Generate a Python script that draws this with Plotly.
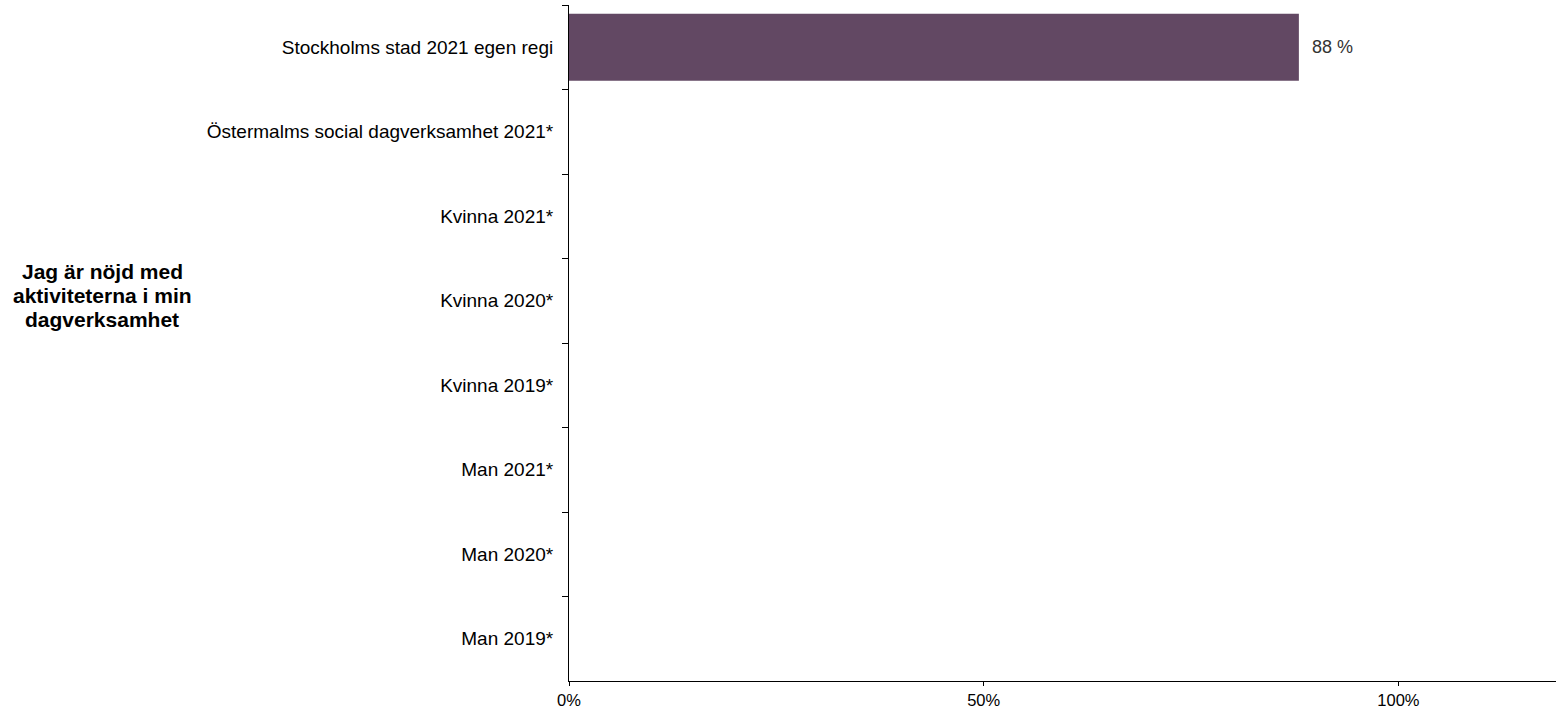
import plotly.graph_objects as go

categories = [
    "Stockholms stad 2021 egen regi",
    "Östermalms social dagverksamhet 2021*",
    "Kvinna 2021*",
    "Kvinna 2020*",
    "Kvinna 2019*",
    "Man 2021*",
    "Man 2020*",
    "Man 2019*",
]
values = [0.88, None, None, None, None, None, None, None]
question_lines = ["Jag är nöjd med", "aktiviteterna i min", "dagverksamhet"]
x_tickvals = [0, 0.5, 1.0]
x_ticktext = ["0%", "50%", "100%"]

W, H = 1556, 712
L, R, T, B = 569, 0, 5, 31

fig = go.Figure()
fig.add_trace(go.Bar(
    y=categories, x=values, orientation="h",
    marker=dict(color="#624863", line=dict(width=0)),
    width=0.79,
    hoverinfo="skip",
))

for c, v in zip(categories, values):
    if v is not None:
        fig.add_annotation(
            x=v, y=c, xref="x", yref="y",
            text=f"{round(v*100)} %", showarrow=False,
            xanchor="left", xshift=11,
            font=dict(family="Arial, Liberation Sans", size=18, color="#333333"),
        )

# y-axis question title, placed in pixel terms converted to paper coords
title_x_px = 102
title_y_px = [271, 295, 319]
for line, ypx in zip(question_lines, title_y_px):
    fig.add_annotation(
        x=(title_x_px - L) / (W - L - R), y=(H - B - ypx) / (H - B - T),
        xref="paper", yref="paper",
        text=f"<b>{line}</b>", showarrow=False,
        xanchor="center", yanchor="middle",
        font=dict(family="Arial, Liberation Sans", size=21, color="#000000"),
    )

fig.update_layout(
    width=W, height=H,
    margin=dict(l=L, r=R, t=T, b=B),
    plot_bgcolor="white", paper_bgcolor="white",
    showlegend=False,
    font=dict(family="Arial, Liberation Sans", size=16, color="#000000"),
)
fig.update_xaxes(
    range=[0, 1.19], tickvals=x_tickvals, ticktext=x_ticktext,
    showgrid=False, zeroline=False,
    showline=True, linecolor="#000000", linewidth=1,
    ticks="outside", ticklen=4, tickcolor="#000000",
    tickfont=dict(size=16.5), fixedrange=True,
)
fig.update_yaxes(
    autorange="reversed", showgrid=False, zeroline=False,
    showline=True, linecolor="#000000", linewidth=1,
    ticks="outside", ticklen=6, tickcolor="#000000", tickson="boundaries",
    tickfont=dict(size=19), ticklabelstandoff=11, fixedrange=True,
)

fig.write_html(
    "out.html",
    config={"displayModeBar": False},
    post_script="document.body.style.margin='0';document.body.style.overflow='hidden';",
)
